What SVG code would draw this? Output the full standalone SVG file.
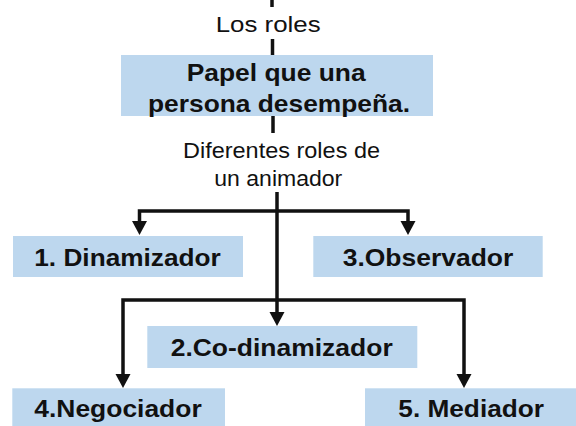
<svg xmlns="http://www.w3.org/2000/svg" width="576" height="426" viewBox="0 0 576 426">
<style>
.box{fill:#BDD7EE;}
.b{font-family:"Liberation Sans",Arial,sans-serif;font-weight:bold;font-size:24px;fill:#111;}
.r{font-family:"Liberation Sans",Arial,sans-serif;font-size:22px;fill:#111;}
.ln{fill:none;stroke:#111;stroke-width:3.5;}
</style>
<defs>
<marker id="ah" markerUnits="userSpaceOnUse" markerWidth="16" markerHeight="16" refX="2" refY="7.5" orient="auto-start-reverse" viewBox="0 0 16 16">
<path d="M0,0 L14,7.5 L0,15 z" fill="#111"/>
</marker>
</defs>
<g id="connectors">
<path class="ln" d="M272,0 V7"/>
<path class="ln" d="M272.5,39 V55"/>
<path class="ln" d="M273,116 V133"/>
<path class="ln" d="M277,192 V314" marker-end="url(#ah)"/>
<path class="ln" d="M139.5,223 V211 H408 V223" marker-start="url(#ah)" marker-end="url(#ah)"/>
<path class="ln" d="M123,376 V300 H464 V376" marker-start="url(#ah)" marker-end="url(#ah)"/>
</g>
<g id="los-roles">
<text class="r" x="215.7" y="32" font-size="25.5" textLength="105" lengthAdjust="spacingAndGlyphs">Los roles</text>
</g>
<g id="papel">
<rect class="box" x="121" y="55" width="312" height="61"/>
<text class="b" x="186.7" y="80.5" textLength="179" lengthAdjust="spacingAndGlyphs">Papel que una</text>
<text class="b" x="148" y="111.5" textLength="262" lengthAdjust="spacingAndGlyphs">persona desempeña.</text>
</g>
<g id="diferentes">
<text class="r" x="183" y="158" textLength="197" lengthAdjust="spacingAndGlyphs">Diferentes roles de</text>
<text class="r" x="214.3" y="185.5" textLength="128" lengthAdjust="spacingAndGlyphs">un animador</text>
</g>
<g id="dinamizador">
<rect class="box" x="13" y="236" width="230" height="41"/>
<text class="b" x="34.3" y="265.7" textLength="186.4" lengthAdjust="spacingAndGlyphs">1. Dinamizador</text>
</g>
<g id="observador">
<rect class="box" x="313.3" y="236" width="229.4" height="41"/>
<text class="b" x="342.7" y="265.7" textLength="170.6" lengthAdjust="spacingAndGlyphs">3.Observador</text>
</g>
<g id="codinamizador">
<rect class="box" x="147.3" y="326" width="270" height="42"/>
<text class="b" x="170.7" y="356" textLength="222" lengthAdjust="spacingAndGlyphs">2.Co-dinamizador</text>
</g>
<g id="negociador">
<rect class="box" x="12.3" y="388.3" width="212.7" height="37.7"/>
<text class="b" x="34.3" y="416.7" textLength="167.4" lengthAdjust="spacingAndGlyphs">4.Negociador</text>
</g>
<g id="mediador">
<rect class="box" x="365" y="388.3" width="211" height="37.7"/>
<text class="b" x="398.3" y="416.7" textLength="145.7" lengthAdjust="spacingAndGlyphs">5. Mediador</text>
</g>
</svg>
